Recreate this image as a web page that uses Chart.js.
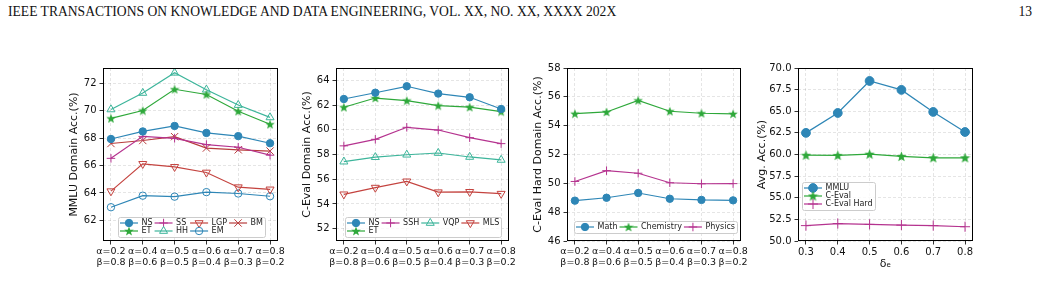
<!DOCTYPE html>
<html>
<head>
<meta charset="utf-8">
<script src="https://cdn.jsdelivr.net/npm/chart.js@4.4.0/dist/chart.umd.min.js"></script>
<style>
body { margin: 0; background: #fff; width: 1041px; height: 286px; position: relative; overflow: hidden; }
canvas { position: absolute; }
#hdr { position: absolute; left: 8px; top: 4px; font: 13.6px 'Liberation Serif', 'Times New Roman', serif; color: #111; white-space: nowrap; }
#pg { position: absolute; right: 9px; top: 4px; font: 13.6px 'Liberation Serif', serif; color: #111; }
</style>
</head>
<body>
<div id="hdr">IEEE TRANSACTIONS ON KNOWLEDGE AND DATA ENGINEERING, VOL. XX, NO. XX, XXXX 202X</div>
<div id="pg">13</div>
<canvas id="c1"></canvas>
<canvas id="c2"></canvas>
<canvas id="c3"></canvas>
<canvas id="c4"></canvas>
<script>
// categories
var ratios = [['α=0.2', 'β=0.8'], ['α=0.4', 'β=0.6'], ['α=0.5', 'β=0.5'],
              ['α=0.6', 'β=0.4'], ['α=0.7', 'β=0.3'], ['α=0.8', 'β=0.2']];
var ratioIdx = [0, 1, 2, 3, 4, 5];
var deltas = [0.3, 0.4, 0.5, 0.6, 0.7, 0.8];

// MMLU domain
var mmluNS  = [67.93, 68.48, 68.88, 68.37, 68.14, 67.62];
var mmluET  = [69.43, 70.00, 71.55, 71.17, 69.95, 69.00];
var mmluSS  = [66.52, 68.12, 67.98, 67.52, 67.33, 66.75];
var mmluHH  = [70.08, 71.28, 72.75, 71.52, 70.40, 69.50];
var mmluLGP = [64.13, 66.12, 65.90, 65.49, 64.42, 64.26];
var mmluEM  = [62.96, 63.80, 63.73, 64.06, 63.96, 63.76];
var mmluBM  = [67.60, 67.82, 68.10, 67.27, 67.14, 67.05];

// C-Eval domain
var ceNS  = [62.49, 63.00, 63.52, 62.93, 62.63, 61.68];
var ceET  = [61.82, 62.57, 62.36, 61.96, 61.83, 61.47];
var ceSSH = [58.70, 59.23, 60.20, 59.98, 59.36, 58.88];
var ceVQP = [57.42, 57.78, 57.98, 58.12, 57.80, 57.56];
var ceMLS = [54.78, 55.32, 55.83, 54.95, 54.98, 54.83];

// C-Eval Hard domain
var hardMath = [48.80, 49.00, 49.33, 48.93, 48.85, 48.82];
var hardChem = [54.83, 54.95, 55.75, 55.00, 54.86, 54.82];
var hardPhys = [50.13, 50.88, 50.70, 50.04, 49.97, 49.98];

// average vs delta
var avgMMLU  = [62.50, 64.80, 68.50, 67.47, 64.92, 62.60];
var avgCEval = [59.92, 59.90, 60.04, 59.78, 59.62, 59.62];
var avgHard  = [51.78, 52.02, 51.92, 51.84, 51.78, 51.65];

// tick labels
var ticks1 = [62, 64, 66, 68, 70, 72];
var ticks2 = [52, 54, 56, 58, 60, 62, 64];
var ticks3 = [46, 48, 50, 52, 54, 56, 58];
var ticks4 = [50, 52.5, 55, 57.5, 60, 62.5, 65, 67.5, 70];

var BLUE = '#2e86b6', GREEN = '#2ea83a', MAG = '#b5338f', TEAL = '#3db59b', RED = '#c4433f', DRED = '#b83c3c';
var FONT = 'DejaVu Sans';

function starImg(color, size) {
  var c = document.createElement('canvas');
  c.width = c.height = size;
  var x = c.getContext('2d');
  var R = size / 2, r = R * 0.42;
  x.beginPath();
  for (var i = 0; i < 10; i++) {
    var a = -Math.PI / 2 + i * Math.PI / 5;
    var rr = i % 2 ? r : R;
    x.lineTo(R + rr * Math.cos(a), R + 0.4 + rr * Math.sin(a));
  }
  x.closePath();
  x.fillStyle = color;
  x.fill();
  return c;
}

function series(label, xs, ys, color, mark, size) {
  var d = {
    label: label,
    data: ys.map(function (y, i) { return { x: xs[i], y: y }; }),
    borderColor: color, borderWidth: 1.2,
    pointBorderColor: color, pointBorderWidth: 1, pointRotation: 0,
    pointBackgroundColor: color, pointStyle: 'circle', pointRadius: size
  };
  if (mark == 'star') { d.pointStyle = starImg(color, Math.round(size * 2.6)); }
  if (mark == 'ocircle') { d.pointBackgroundColor = 'rgba(0,0,0,0)'; }
  if (mark == 'tri') { d.pointStyle = 'triangle'; d.pointBackgroundColor = 'rgba(0,0,0,0)'; d.pointRadius = size * 1.25; }
  if (mark == 'vtri') { d.pointStyle = 'triangle'; d.pointRotation = 180; d.pointBackgroundColor = 'rgba(0,0,0,0)'; d.pointRadius = size * 1.25; }
  if (mark == 'plus') { d.pointStyle = 'cross'; d.pointRadius = size * 1.15; }
  if (mark == 'x') { d.pointStyle = 'crossRot'; d.pointRadius = size * 1.4; }
  return d;
}

function legendPlugin(cfg) {
  return {
    id: 'boxLegend',
    afterDraw: function (chart) {
      var ctx = chart.ctx, a = chart.chartArea;
      ctx.save();
      // axes frame
      ctx.strokeStyle = '#000'; ctx.lineWidth = 1;
      ctx.strokeRect(Math.round(a.left) + 0.5, Math.round(a.top) + 0.5, Math.round(a.right - a.left) - 1, Math.round(a.bottom - a.top) - 1);
      ctx.font = '8px "' + FONT + '"';
      var cols = cfg.columns.map(function (col) { return col.map(function (i) { return chart.data.datasets[i]; }); });
      var colW = cols.map(function (col) {
        return 18 + 3.5 + Math.max.apply(null, col.map(function (d) { return ctx.measureText(d.label).width; }));
      });
      var rows = Math.max.apply(null, cols.map(function (c) { return c.length; }));
      var w = 4 + colW.reduce(function (s, v) { return s + v; }, 0) + 2 * (cols.length - 1);
      var h = 4 + rows * 8;
      var x0 = Math.round(a.left + cfg.left);
      var y0 = Math.round(cfg.top != null ? a.top + cfg.top : a.bottom - cfg.bottom - h);
      ctx.beginPath();
      ctx.roundRect(x0 + 0.5, y0 + 0.5, Math.round(w), h, 2);
      ctx.fillStyle = 'rgba(255,255,255,0.8)'; ctx.fill();
      ctx.strokeStyle = '#cccccc'; ctx.lineWidth = 1; ctx.stroke();
      var cx = x0 + 2;
      cols.forEach(function (col, ci) {
        col.forEach(function (d, ri) {
          var cy = y0 + 2 + 8 * (ri + 0.5);
          ctx.strokeStyle = d.borderColor; ctx.lineWidth = d.borderWidth;
          ctx.beginPath(); ctx.moveTo(cx, cy); ctx.lineTo(cx + 18, cy); ctx.stroke();
          ctx.fillStyle = d.pointBackgroundColor; ctx.lineWidth = d.pointBorderWidth;
          Chart.helpers.drawPoint(ctx, { pointStyle: d.pointStyle, rotation: d.pointRotation, radius: d.pointRadius, borderWidth: d.pointBorderWidth }, cx + 9, cy);
          ctx.fillStyle = '#222'; ctx.textBaseline = 'middle'; ctx.textAlign = 'left';
          ctx.fillText(d.label, cx + 18 + 3.5, cy);
        });
        cx += colW[ci] + 2;
      });
      ctx.restore();
    }
  };
}

function makeChart(id, rect, cfg) {
  var W = cfg.yw, H = cfg.xh, padT = 10, padR = 20;
  var cv = document.getElementById(id);
  cv.width = W + rect.w + padR;
  cv.height = padT + rect.h + H;
  cv.style.left = (rect.l - W) + 'px';
  cv.style.top = (rect.t - padT) + 'px';
  var grid = { color: 'rgba(0,0,0,0.13)', lineWidth: 0.8, tickColor: '#000', tickWidth: 0.8, tickLength: 3.5, drawTicks: true };
  var border = { display: false, dash: [3, 2] };
  new Chart(cv, {
    type: 'line',
    data: { datasets: cfg.datasets },
    options: {
      responsive: false, animation: false, events: [], devicePixelRatio: 1,
      layout: { padding: { left: 0, top: padT, right: padR, bottom: 0 } },
      plugins: { legend: { display: false }, tooltip: { enabled: false } },
      scales: {
        x: {
          type: 'linear', min: cfg.xmin, max: cfg.xmax,
          afterBuildTicks: function (s) { s.ticks = cfg.xticks.map(function (v) { return { value: v }; }); },
          afterFit: function (s) { s.height = H; },
          ticks: { callback: cfg.xlabel, color: '#111', padding: 2, minRotation: 0, maxRotation: 0, autoSkip: false,
                   font: { family: FONT, size: cfg.xfont || 10, lineHeight: 1.1 } },
          grid: grid, border: border,
          title: { display: !!cfg.xtitle, text: cfg.xtitle || '', color: '#111', padding: 0, font: { family: FONT, size: 11 } }
        },
        y: {
          min: cfg.ymin, max: cfg.ymax,
          afterBuildTicks: function (s) { s.ticks = cfg.yticks.map(function (v) { return { value: v }; }); },
          afterFit: function (s) { s.width = W; },
          ticks: { callback: cfg.ylabel, color: '#111', padding: 3, autoSkip: false, font: { family: FONT, size: 10 } },
          grid: grid, border: border,
          title: { display: true, text: cfg.ytitle, color: '#111', padding: 0, font: { family: FONT, size: 11 } }
        }
      }
    },
    plugins: [legendPlugin(cfg.legend)]
  });
}

function ratioLabel(v) { return ratios[v]; }
function intLabel(v) { return String(v); }
function oneDec(v) { return v.toFixed(1); }

var R = 3.7;
makeChart('c1', { l: 103, t: 68, w: 175, h: 173 }, {
  yw: 35, xh: 40, xfont: 9.5, xmin: -0.25, xmax: 5.25, xticks: ratioIdx, xlabel: ratioLabel,
  ymin: 60.5, ymax: 73.1, yticks: ticks1, ylabel: intLabel, ytitle: 'MMLU Domain Acc.(%)',
  datasets: [
    series('NS', ratioIdx, mmluNS, BLUE, 'circle', R),
    series('ET', ratioIdx, mmluET, GREEN, 'star', R),
    series('SS', ratioIdx, mmluSS, MAG, 'plus', R),
    series('HH', ratioIdx, mmluHH, TEAL, 'tri', R),
    series('LGP', ratioIdx, mmluLGP, RED, 'vtri', R),
    series('EM', ratioIdx, mmluEM, BLUE, 'ocircle', R),
    series('BM', ratioIdx, mmluBM, DRED, 'x', R)
  ],
  legend: { left: 15, bottom: 4, columns: [[0, 1], [2, 3], [4, 5], [6]] }
});

makeChart('c2', { l: 336, t: 68, w: 173, h: 173 }, {
  yw: 35, xh: 40, xfont: 9.5, xmin: -0.25, xmax: 5.25, xticks: ratioIdx, xlabel: ratioLabel,
  ymin: 51, ymax: 65, yticks: ticks2, ylabel: intLabel, ytitle: 'C-Eval Domain Acc.(%)',
  datasets: [
    series('NS', ratioIdx, ceNS, BLUE, 'circle', R),
    series('ET', ratioIdx, ceET, GREEN, 'star', R),
    series('SSH', ratioIdx, ceSSH, MAG, 'plus', R),
    series('VQP', ratioIdx, ceVQP, TEAL, 'tri', R),
    series('MLS', ratioIdx, ceMLS, RED, 'vtri', R)
  ],
  legend: { left: 9, bottom: 4, columns: [[0, 1], [2], [3], [4]] }
});

makeChart('c3', { l: 567, t: 68, w: 174, h: 173 }, {
  yw: 35, xh: 40, xfont: 9.5, xmin: -0.25, xmax: 5.25, xticks: ratioIdx, xlabel: ratioLabel,
  ymin: 46, ymax: 58, yticks: ticks3, ylabel: intLabel, ytitle: 'C-Eval Hard Domain Acc.(%)',
  datasets: [
    series('Math', ratioIdx, hardMath, BLUE, 'circle', R),
    series('Chemistry', ratioIdx, hardChem, GREEN, 'star', R),
    series('Physics', ratioIdx, hardPhys, MAG, 'plus', R)
  ],
  legend: { left: 7, bottom: 8, columns: [[0], [1], [2]] }
});

var R4 = 4.4;
makeChart('c4', { l: 798, t: 68, w: 175, h: 173 }, {
  yw: 42, xh: 30, xmin: 0.275, xmax: 0.825, xticks: deltas, xlabel: oneDec, xtitle: 'δₑ',
  ymin: 50, ymax: 70, yticks: ticks4, ylabel: oneDec, ytitle: 'Avg. Acc.(%)',
  datasets: [
    series('MMLU', deltas, avgMMLU, BLUE, 'circle', R4),
    series('C-Eval', deltas, avgCEval, GREEN, 'star', R4),
    series('C-Eval Hard', deltas, avgHard, MAG, 'plus', R4)
  ],
  legend: { left: 4, top: 114, columns: [[0, 1, 2]] }
});
</script>
</body>
</html>
